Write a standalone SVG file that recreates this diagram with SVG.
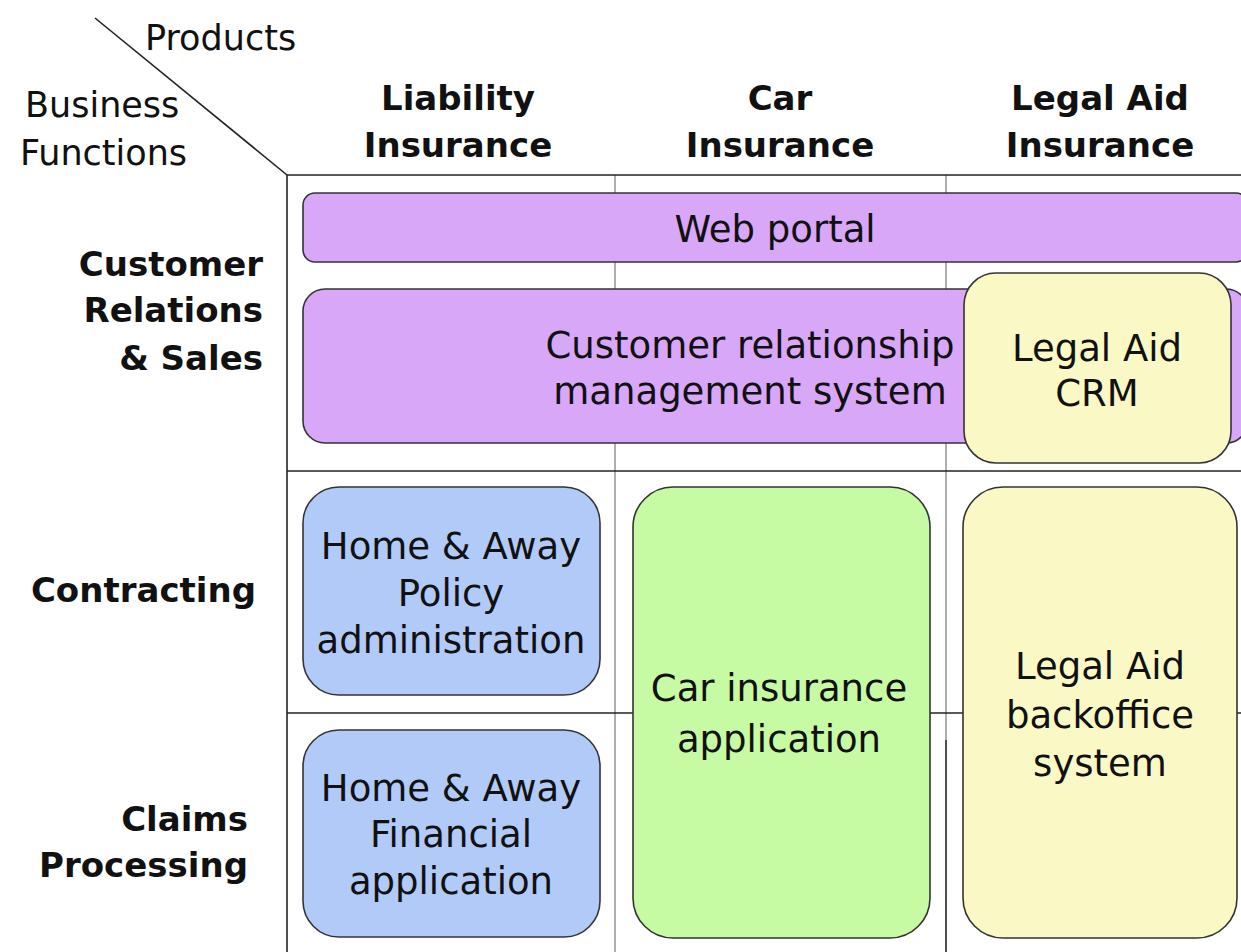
<svg xmlns="http://www.w3.org/2000/svg" width="1241" height="952" viewBox="0 0 1241 952">
<style>
.t{font-family:"DejaVu Sans","Liberation Sans",sans-serif;font-size:37px;fill:#111;text-anchor:middle}
.h{font-family:"DejaVu Sans","Liberation Sans",sans-serif;font-size:34px;font-weight:bold;fill:#111;text-anchor:middle}
.r{font-family:"DejaVu Sans","Liberation Sans",sans-serif;font-size:34px;font-weight:bold;fill:#111;text-anchor:end}
.l{font-family:"DejaVu Sans","Liberation Sans",sans-serif;font-size:35px;fill:#111}
.box{stroke:#333;stroke-width:1.6}
.grid{stroke:#222;stroke-width:1.6}
.grid2{stroke:#999;stroke-width:1.6}
</style>
<rect width="1241" height="952" fill="#fff"/>
<g id="grid">
<line class="grid2" x1="615" y1="175" x2="615" y2="952"/>
<line class="grid2" x1="946" y1="175" x2="946" y2="740"/>
<line class="grid" x1="946" y1="740" x2="946" y2="952"/>
<line class="grid" x1="95" y1="18" x2="287" y2="175"/>
<line class="grid" x1="287" y1="175" x2="1241" y2="175"/>
<line class="grid" x1="287" y1="175" x2="287" y2="952"/>
<line class="grid" x1="287" y1="471" x2="1241" y2="471"/>
<line class="grid" x1="287" y1="713" x2="1241" y2="713"/>
</g>
<g id="labels">
<text class="l" x="145" y="50">Products</text>
<text class="l" x="25" y="117">Business</text>
<text class="l" x="20" y="165">Functions</text>
<text class="h" x="458" y="110">Liability</text>
<text class="h" x="458" y="157">Insurance</text>
<text class="h" x="780" y="110">Car</text>
<text class="h" x="780" y="157">Insurance</text>
<text class="h" x="1100" y="110">Legal Aid</text>
<text class="h" x="1100" y="157">Insurance</text>
<text class="r" x="263" y="276">Customer</text>
<text class="r" x="263" y="322">Relations</text>
<text class="r" x="263" y="370">&amp; Sales</text>
<text class="r" x="256" y="602">Contracting</text>
<text class="r" x="248" y="831">Claims</text>
<text class="r" x="248" y="877">Processing</text>
</g>
<g id="web-portal">
<rect class="box" x="303" y="193" width="945" height="69" rx="12" fill="#D8A7F8"/>
<text class="t" x="775" y="242">Web portal</text>
</g>
<g id="crm">
<rect class="box" x="303" y="289" width="945" height="154" rx="22" fill="#D8A7F8"/>
<text class="t" x="750" y="358">Customer relationship</text>
<text class="t" x="750" y="404">management system</text>
</g>
<g id="legal-aid-crm">
<rect class="box" x="964" y="273" width="267" height="190" rx="32" fill="#FAF9C6"/>
<text class="t" x="1097" y="361">Legal Aid</text>
<text class="t" x="1097" y="406">CRM</text>
</g>
<g id="home-away-policy">
<rect class="box" x="303" y="487" width="297" height="208" rx="36" fill="#B2CAF8"/>
<text class="t" x="451" y="559">Home &amp; Away</text>
<text class="t" x="451" y="606">Policy</text>
<text class="t" x="451" y="653">administration</text>
</g>
<g id="home-away-financial">
<rect class="box" x="303" y="730" width="297" height="207" rx="36" fill="#B2CAF8"/>
<text class="t" x="451" y="801">Home &amp; Away</text>
<text class="t" x="451" y="847">Financial</text>
<text class="t" x="451" y="894">application</text>
</g>
<g id="car-insurance-app">
<rect class="box" x="633" y="487" width="297" height="451" rx="40" fill="#C6FAA3"/>
<text class="t" x="779" y="701">Car insurance</text>
<text class="t" x="779" y="752">application</text>
</g>
<g id="legal-aid-backoffice">
<rect class="box" x="963" y="487" width="274" height="451" rx="40" fill="#FAF9C6"/>
<text class="t" x="1100" y="679">Legal Aid</text>
<text class="t" x="1100" y="728">backoffice</text>
<text class="t" x="1100" y="776">system</text>
</g>
</svg>
